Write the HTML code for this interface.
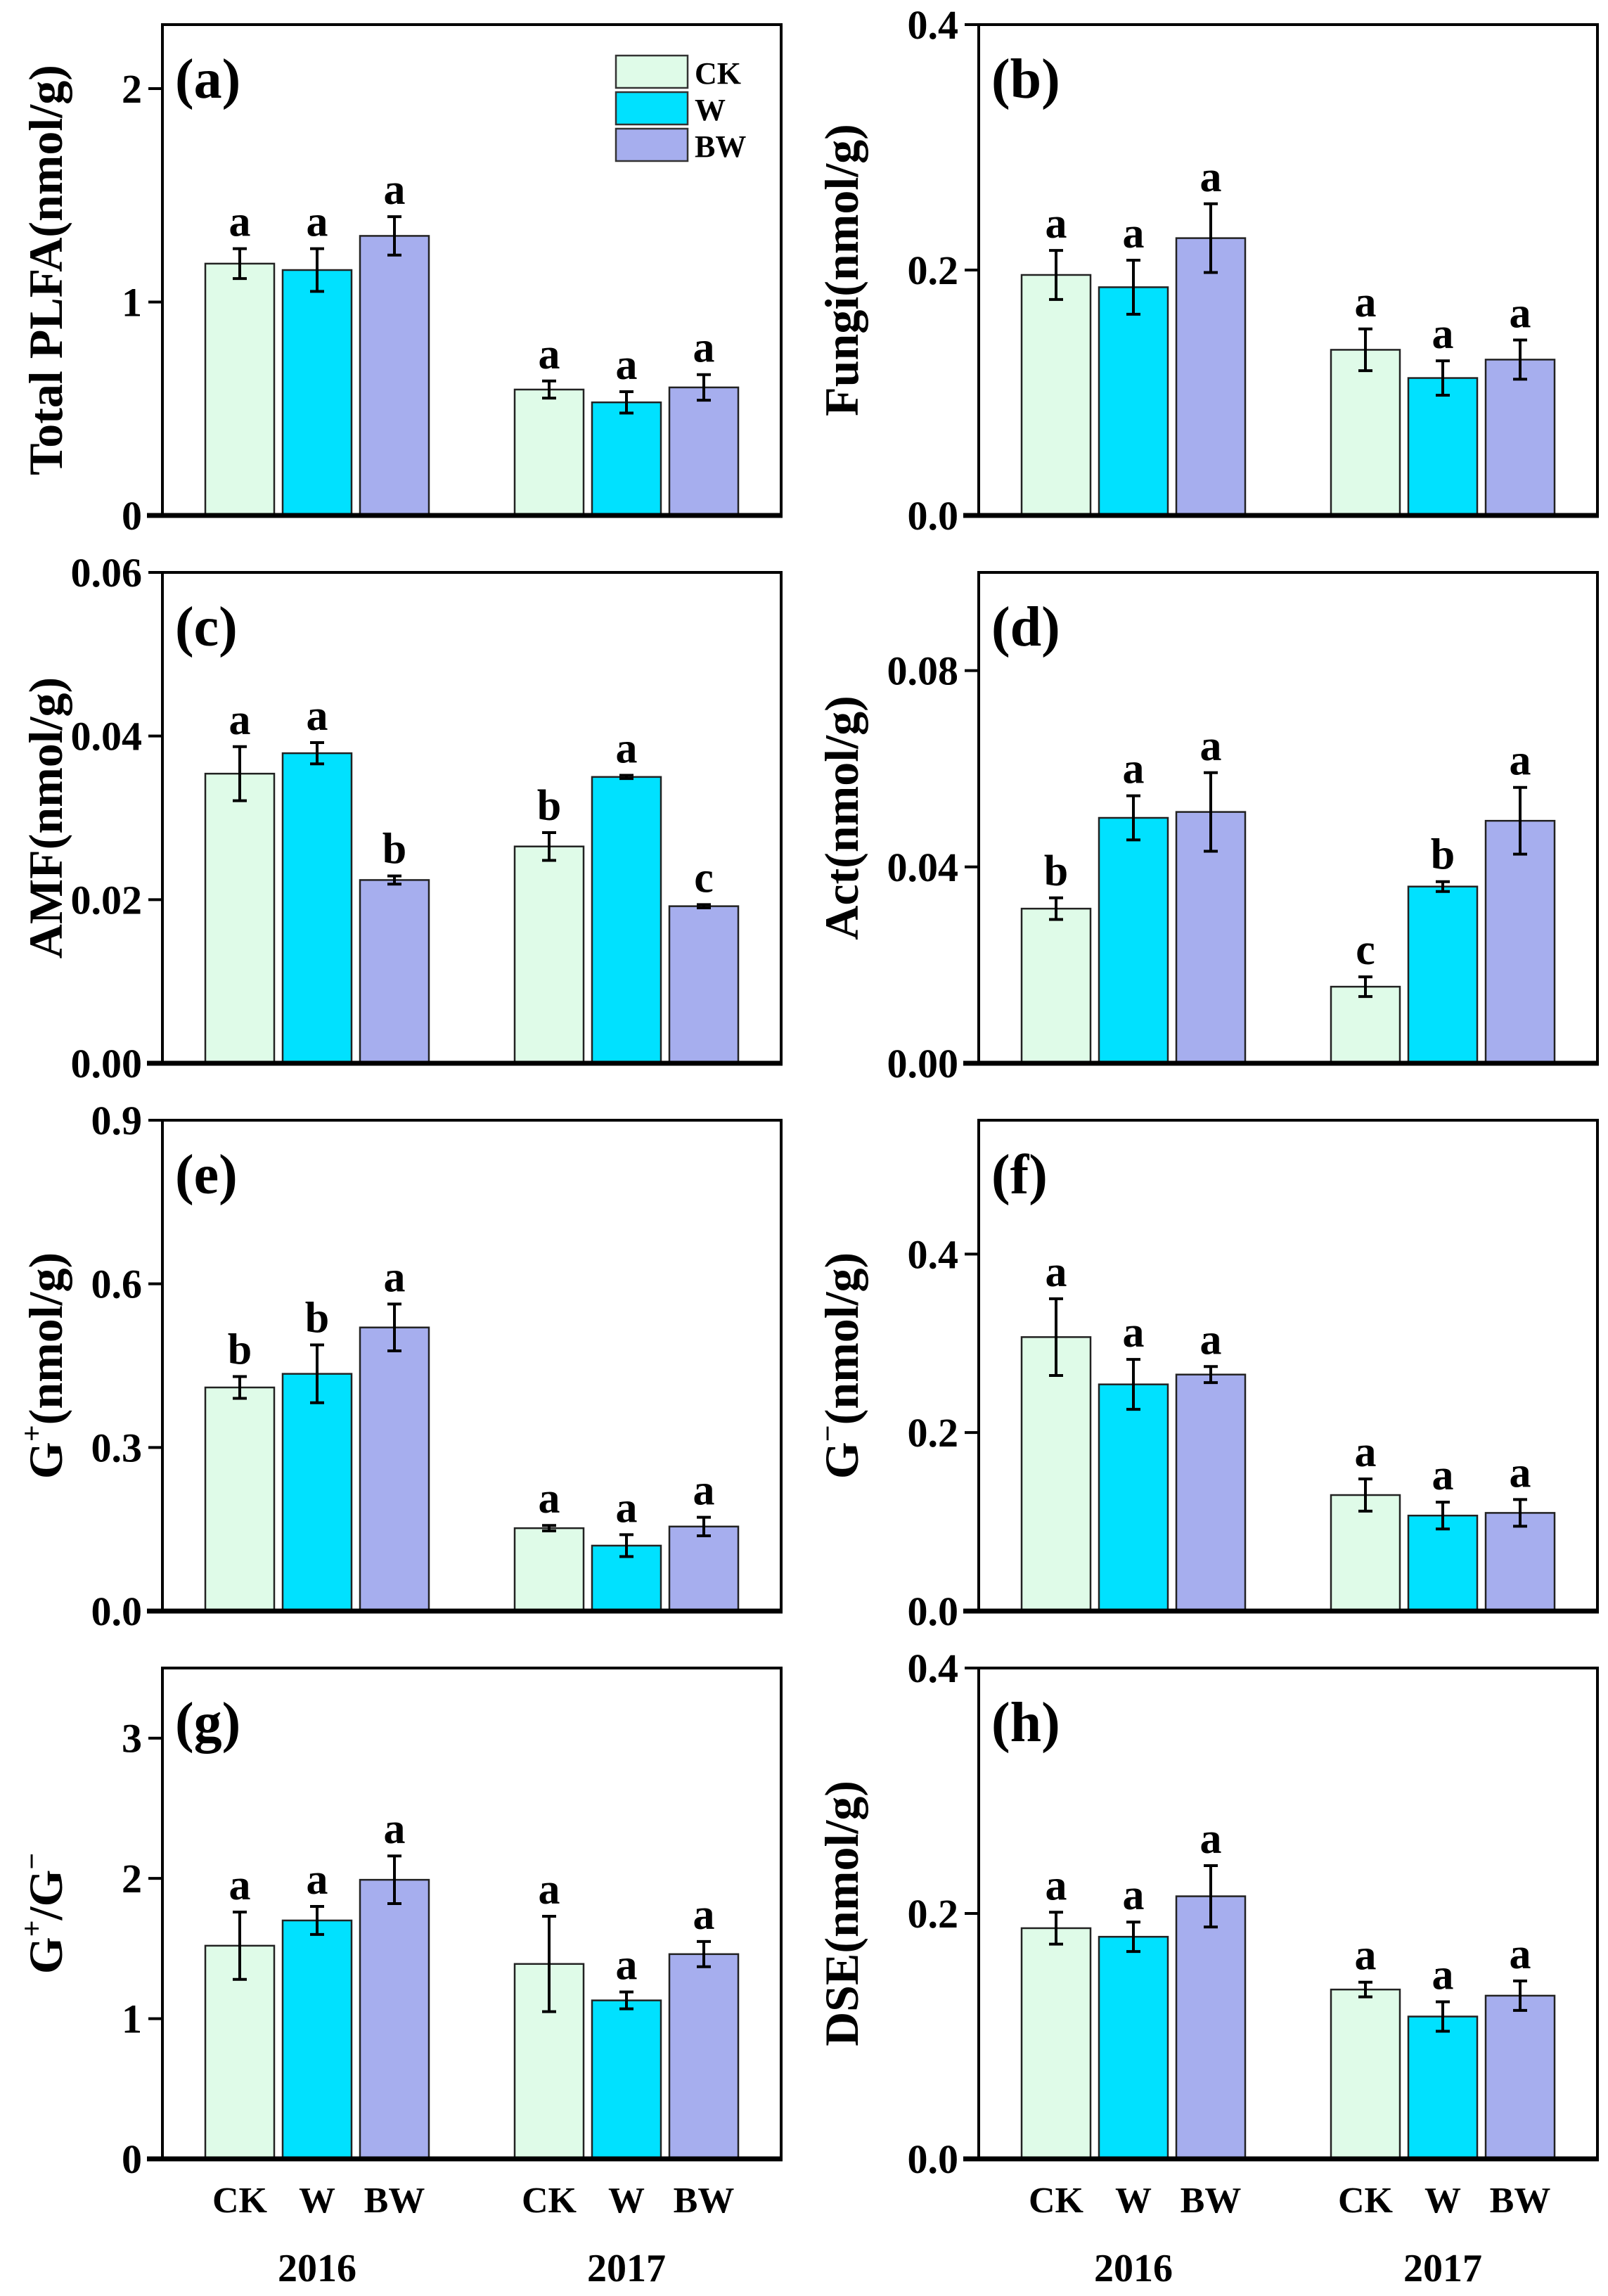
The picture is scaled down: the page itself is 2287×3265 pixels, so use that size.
<!DOCTYPE html>
<html><head><meta charset="utf-8"><style>
html,body{margin:0;padding:0;background:#fff;}
svg{display:block;}
text{font-family:"Liberation Serif",serif;font-weight:bold;fill:#000;}
</style></head><body>
<svg id="chart" width="2287" height="3265" viewBox="0 0 2287 3265" xmlns="http://www.w3.org/2000/svg"></svg>
<script>
const groups = ["2016","2017"];
const treatments = ["CK","W","BW"];
const colors = ["#dffbe8","#00e1ff","#a6aeee"];
const titles = ["(a)","(b)","(c)","(d)","(e)","(f)","(g)","(h)"];
const yMaxes = [2.3,0.4,0.06,0.1,0.9,0.55,3.5,0.4];
const tickVals = [[0,1,2],[0,0.2,0.4],[0,0.02,0.04,0.06],[0,0.04,0.08],[0,0.3,0.6,0.9],[0,0.2,0.4],[0,1,2,3],[0,0.2,0.4]];
const tickLabels = [["0","1","2"],["0.0","0.2","0.4"],["0.00","0.02","0.04","0.06"],["0.00","0.04","0.08"],["0.0","0.3","0.6","0.9"],["0.0","0.2","0.4"],["0","1","2","3"],["0.0","0.2","0.4"]];
const means = [
 [1.18,1.15,1.31,0.59,0.53,0.60],
 [0.196,0.186,0.226,0.135,0.112,0.127],
 [0.0354,0.0379,0.0224,0.0265,0.0350,0.0192],
 [0.0315,0.0500,0.0512,0.0156,0.0360,0.0494],
 [0.41,0.435,0.52,0.152,0.12,0.155],
 [0.307,0.254,0.265,0.130,0.107,0.110],
 [1.52,1.70,1.99,1.39,1.13,1.46],
 [0.188,0.181,0.214,0.138,0.116,0.133]];
const errs = [
 [0.07,0.10,0.09,0.04,0.05,0.06],
 [0.020,0.022,0.028,0.017,0.014,0.016],
 [0.0033,0.0013,0.0005,0.0017,0.0002,0.0002],
 [0.0022,0.0045,0.008,0.002,0.001,0.0068],
 [0.02,0.053,0.043,0.005,0.02,0.017],
 [0.043,0.028,0.009,0.018,0.015,0.015],
 [0.24,0.10,0.17,0.34,0.06,0.09],
 [0.013,0.012,0.025,0.006,0.012,0.012]];
const sigLetters = [
 ["a","a","a","a","a","a"],["a","a","a","a","a","a"],["a","a","b","b","a","c"],["b","a","a","c","b","a"],
 ["b","b","a","a","a","a"],["a","a","a","a","a","a"],["a","a","a","a","a","a"],["a","a","a","a","a","a"]];

const NS="http://www.w3.org/2000/svg";
const svg=document.getElementById('chart');
function mk(tag,attrs,parent){const e=document.createElementNS(NS,tag);for(const k in attrs)e.setAttribute(k,attrs[k]);(parent||svg).appendChild(e);return e;}

const colX=[231,1392], W=880, H=698, rowTop=[35,814,1593,2372];
const labelX=[72,1204];

function yLabel(g,i,x,cy){
  const t=mk('text',{x:x,y:cy,'font-size':68,'text-anchor':'middle',transform:`rotate(-90 ${x} ${cy})`,'dominant-baseline':'middle'},g);
  
  
  const parts={0:[["Total PLFA(nmol/g)"]],1:[["Fungi(nmol/g)"]],2:[["AMF(nmol/g)"]],3:[["Act(nmol/g)"]],
    4:[["G"],["+","sup"],["(nmol/g)"]],5:[["G"],["\u2212","sup"],["(nmol/g)"]],6:[["G"],["+","sup"],["/G"],["\u2212","sup"]],7:[["DSE(nmol/g)"]]}[i];
  parts.forEach(p=>{const s=mk('tspan',{},t);s.textContent=p[0];
    if(p[1]){s.setAttribute('font-size',42);s.setAttribute('baseline-shift','super');}});
}

for(let i=0;i<8;i++){
  const col=i%2,row=Math.floor(i/2);
  const x0=colX[col], y0=rowTop[row], yb=y0+H;
  const g=mk('g',{});
  
  
  const ys=v=>yb-v/yMaxes[i]*H;
  const xs=u=>x0+u*W/4;
  for(let gi=0;gi<2;gi++){
    for(let t=0;t<3;t++){
      const k=gi*3+t, v=means[i][k], e=errs[i][k];
      const cx=xs(1+gi*2)+(t-1)*110;
      const r=mk('rect',{x:cx-49,y:ys(v),width:98,height:yb-ys(v),fill:colors[t],stroke:'#222','stroke-width':2.5},g);
      
      
      const eb=mk('path',{d:`M${cx} ${ys(v+e)}V${ys(v-e)}M${cx-10} ${ys(v+e)}H${cx+10}M${cx-10} ${ys(v-e)}H${cx+10}`,stroke:'#000','stroke-width':4,fill:'none'},g);
      
      
      const lt=mk('text',{x:cx,y:ys(v+e)-18,'font-size':62,'text-anchor':'middle'},g);
      lt.textContent=sigLetters[i][k];
      
      
    }
  }
  const fr=mk('path',{d:`M${x0} ${yb}V${y0}H${x0+W}V${yb}`,stroke:'#000','stroke-width':4,fill:'none'},g);
  
  
  const xa=mk('line',{x1:x0-22,x2:x0+W+2,y1:yb,y2:yb,stroke:'#000','stroke-width':7},g);
  
  
  tickVals[i].forEach((tv,j)=>{
    const y=ys(tv);
    const tk=mk('line',{x1:x0-20,x2:x0,y1:y,y2:y,stroke:'#000','stroke-width':4},g);
    
    
    const tl=mk('text',{x:x0-29,y:y+20,'font-size':58,'text-anchor':'end'},g);
    tl.textContent=tickLabels[i][j];
    
    
  });
  const pt=mk('text',{x:x0+18,y:y0+104,'font-size':80},g);
  pt.textContent=titles[i];
  
  
  yLabel(g,i,labelX[col],y0+H/2);
  if(row===3){
    for(let gi=0;gi<2;gi++){
      for(let t=0;t<3;t++){
        const cx=xs(1+gi*2)+(t-1)*110;
        const c=mk('text',{x:cx,y:3146,'font-size':52,'text-anchor':'middle'},g);
        c.textContent=treatments[t];
        
        
      }
      const yr=mk('text',{x:xs(1+gi*2),y:3244,'font-size':56,'text-anchor':'middle'},g);
      yr.textContent=groups[gi];
      
      
    }
  }
}
const lg=mk('g',{});


treatments.forEach((t,k)=>{
  const y=79+k*52;
  const r=mk('rect',{x:876,y:y,width:102,height:46,fill:colors[k],stroke:'#333','stroke-width':2.5},lg);
  
  
  const tx=mk('text',{x:988,y:y+40,'font-size':44},lg);
  tx.textContent=t;
  
  
});
</script>
</body></html>
